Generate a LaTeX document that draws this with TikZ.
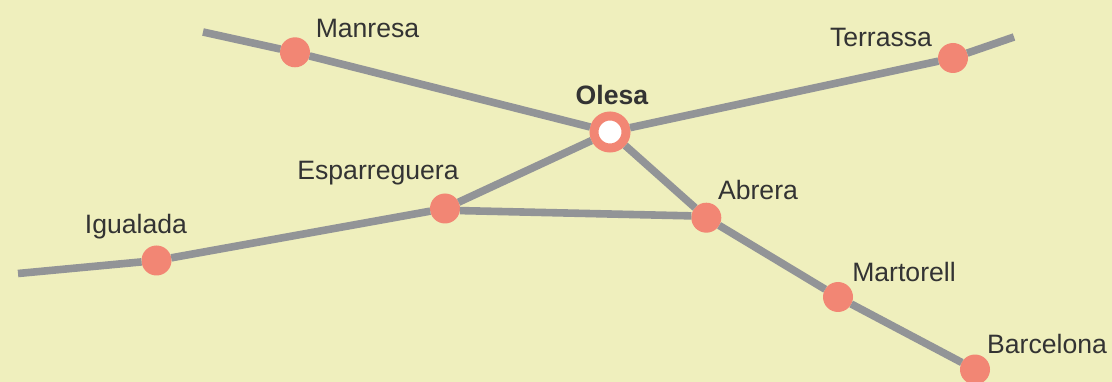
\documentclass[tikz,border=0pt]{standalone}
\usepackage{fontspec}
\setmainfont{Liberation Sans}
\definecolor{mapbg}{HTML}{EFEFBD}
\definecolor{stopcol}{HTML}{F28674}
\definecolor{linecol}{HTML}{929497}
\definecolor{textcol}{HTML}{333333}
\tikzset{
  stopnode/.style={circle, fill=stopcol, inner sep=0pt, outer sep=0pt, minimum size=30pt},
  hubnode/.style={circle, fill=white, draw=stopcol, line width=9pt, inner sep=0pt, minimum size=32pt},
  citylabel/.style={anchor=base, inner sep=0pt, text=textcol, font=\fontsize{26.6}{30}\selectfont},
  track/.style={draw=linecol, line width=7.6pt}
}
\begin{document}
\begin{tikzpicture}[x=1pt, y=-1pt]
            \fill[mapbg] (0,0) rectangle (1112,382);
            \useasboundingbox (0,0) rectangle (1112,382);
            % Free line ends
            \coordinate (endManresa) at (203,32);
            \coordinate (endTerrassa) at (1014,37);
            \coordinate (endIgualada) at (18,273.5);
            % Stops
            \node[stopnode] (manresa) at (295,52.3) {};
            \node[stopnode] (terrassa) at (953,58) {};
            \node[hubnode] (olesa) at (610,132) {};
            \node[stopnode] (esparreguera) at (445,208.5) {};
            \node[stopnode] (abrera) at (706.3,217.7) {};
            \node[stopnode] (igualada) at (156.5,260.5) {};
            \node[stopnode] (martorell) at (838,297) {};
            \node[stopnode] (barcelona) at (975,369.5) {};
            % Lines
            \draw[track] (endManresa) -- (manresa);
            \draw[track] (manresa) -- (olesa);
            \draw[track] (olesa) -- (terrassa);
            \draw[track] (terrassa) -- (endTerrassa);
            \draw[track] (endIgualada) -- (igualada);
            \draw[track] (igualada) -- (esparreguera);
            \draw[track] (esparreguera) -- (olesa);
            \draw[track] (esparreguera.-8) -- (abrera.173);
            \draw[track] (olesa) -- (abrera);
            \draw[track] (abrera) -- (martorell);
            \draw[track] (martorell) -- (barcelona);
            % Labels
            \node[citylabel] (lblManresa) at (367.5,38) {Manresa};
            \node[citylabel] (lblTerrassa) at (881,47) {Terrassa};
            \node[citylabel] (lblOlesa) at (612,105) {\textbf{Olesa}};
            \node[citylabel] (lblEsparreguera) at (378,180) {Esparreguera};
            \node[citylabel] (lblAbrera) at (758,200) {Abrera};
            \node[citylabel] (lblIgualada) at (136,234) {Igualada};
            \node[citylabel] (lblMartorell) at (904,282) {Martorell};
            \node[citylabel] (lblBarcelona) at (1047,353) {Barcelona};
\end{tikzpicture}
\end{document}
